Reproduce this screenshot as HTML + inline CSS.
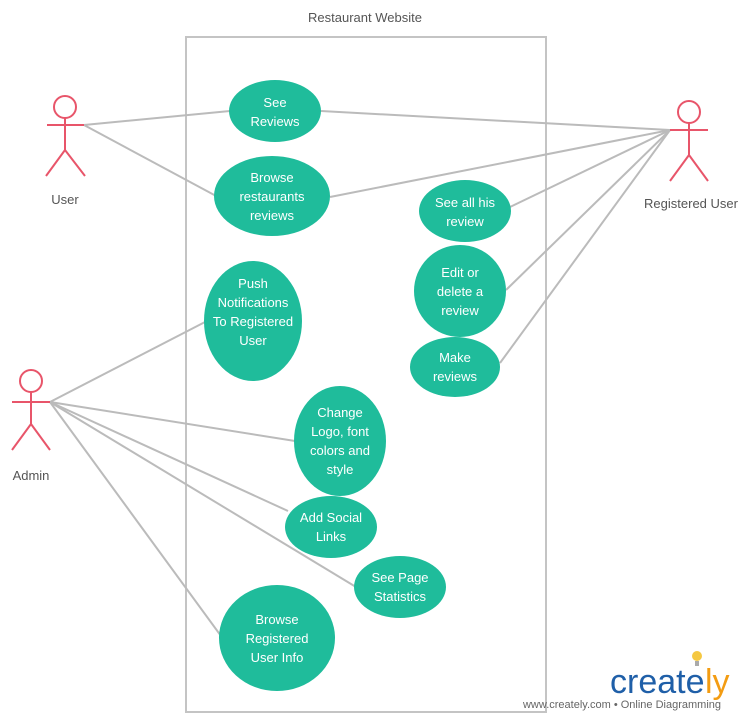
<!DOCTYPE html>
<html><head><meta charset="utf-8"><style>
html,body{margin:0;padding:0;background:#fff;}
svg{display:block;}
text{font-family:"Liberation Sans",sans-serif;}
</style></head><body>
<svg width="744" height="720" viewBox="0 0 744 720" xmlns="http://www.w3.org/2000/svg">
<rect x="186" y="37" width="360" height="675" fill="none" stroke="#c4c4c4" stroke-width="2"/>
<text x="365" y="22" font-size="13" fill="#555" text-anchor="middle">Restaurant Website</text>
<g stroke="#bbb" stroke-width="2" fill="none">
<line x1="84" y1="125" x2="230" y2="111"/>
<line x1="84" y1="125" x2="218" y2="197"/>
<line x1="670" y1="130" x2="321" y2="111"/>
<line x1="670" y1="130" x2="330" y2="197"/>
<line x1="670" y1="130" x2="510" y2="207"/>
<line x1="670" y1="130" x2="506" y2="290"/>
<line x1="670" y1="130" x2="500" y2="363"/>
<line x1="50" y1="402" x2="205" y2="322"/>
<line x1="50" y1="402" x2="295" y2="441"/>
<line x1="50" y1="402" x2="288" y2="511"/>
<line x1="50" y1="402" x2="356" y2="587"/>
<line x1="50" y1="402" x2="221" y2="636"/>
</g>
<g stroke="#e8556a" stroke-width="2" fill="none">
<circle cx="65" cy="107" r="11"/><line x1="65" y1="118" x2="65" y2="150"/><line x1="47" y1="125" x2="84" y2="125"/><line x1="65" y1="150" x2="46" y2="176"/><line x1="65" y1="150" x2="85" y2="176"/>
<circle cx="689" cy="112" r="11"/><line x1="689" y1="123" x2="689" y2="155"/><line x1="670" y1="130" x2="708" y2="130"/><line x1="689" y1="155" x2="670" y2="181"/><line x1="689" y1="155" x2="708" y2="181"/>
<circle cx="31" cy="381" r="11"/><line x1="31" y1="392" x2="31" y2="424"/><line x1="12" y1="402" x2="50" y2="402"/><line x1="31" y1="424" x2="12" y2="450"/><line x1="31" y1="424" x2="50" y2="450"/>
</g>
<g font-size="13" fill="#555" text-anchor="middle">
<text x="65" y="204">User</text>
<text x="691" y="208">Registered User</text>
<text x="31" y="480">Admin</text>
</g>
<g fill="#1fbc9b">
<ellipse cx="275" cy="111" rx="46" ry="31"/>
<ellipse cx="272" cy="196" rx="58" ry="40"/>
<ellipse cx="465" cy="211" rx="46" ry="31"/>
<ellipse cx="460" cy="291" rx="46" ry="46"/>
<ellipse cx="455" cy="367" rx="45" ry="30"/>
<ellipse cx="253" cy="321" rx="49" ry="60"/>
<ellipse cx="340" cy="441" rx="46" ry="55"/>
<ellipse cx="331" cy="527" rx="46" ry="31"/>
<ellipse cx="400" cy="587" rx="46" ry="31"/>
<ellipse cx="277" cy="638" rx="58" ry="53"/>
</g>
<g font-size="13" fill="#fff" text-anchor="middle">
<text x="275" y="107">See</text><text x="275" y="126">Reviews</text>
<text x="272" y="182">Browse</text><text x="272" y="201">restaurants</text><text x="272" y="220">reviews</text>
<text x="465" y="207">See all his</text><text x="465" y="226">review</text>
<text x="460" y="277">Edit or</text><text x="460" y="296">delete a</text><text x="460" y="315">review</text>
<text x="455" y="362">Make</text><text x="455" y="381">reviews</text>
<text x="253" y="288">Push</text><text x="253" y="307">Notifications</text><text x="253" y="326">To Registered</text><text x="253" y="345">User</text>
<text x="340" y="417">Change</text><text x="340" y="436">Logo, font</text><text x="340" y="455">colors and</text><text x="340" y="474">style</text>
<text x="331" y="522">Add Social</text><text x="331" y="541">Links</text>
<text x="400" y="582">See Page</text><text x="400" y="601">Statistics</text>
<text x="277" y="624">Browse</text><text x="277" y="643">Registered</text><text x="277" y="662">User Info</text>
</g>
<circle cx="697" cy="656" r="5" fill="#f5c842"/>
<rect x="695" y="661" width="4" height="5" fill="#aaa"/>
<text x="610" y="693" font-size="34" fill="#1f5fa8">create</text>
<text x="705" y="693" font-size="34" fill="#f39c12">ly</text>
<text x="622" y="708" font-size="11" fill="#666" text-anchor="middle">www.creately.com • Online Diagramming</text>
</svg>
</body></html>
